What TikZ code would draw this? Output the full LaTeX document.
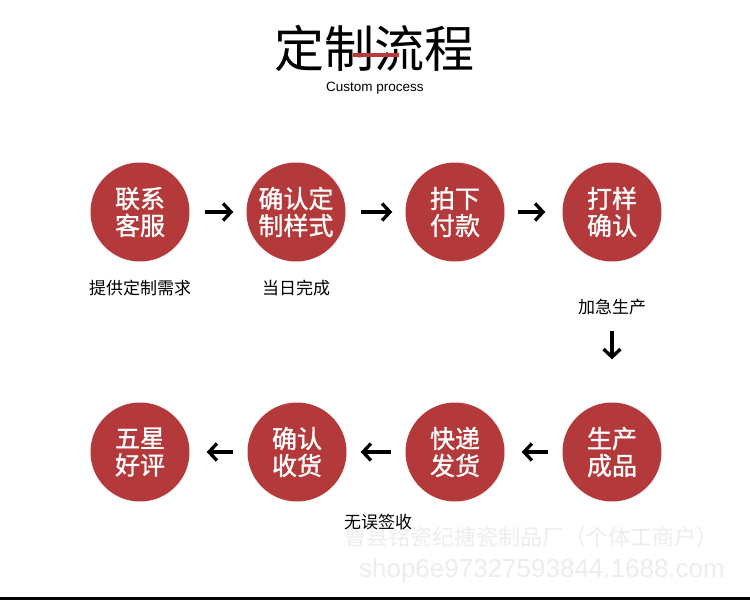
\documentclass[tikz,border=0pt]{standalone}
\usepackage{fontspec}
\setmainfont{Liberation Sans}
\newfontfamily\cjk{Noto Sans CJK SC}
\newfontfamily\cjkm[FakeBold=1.2]{Noto Sans CJK SC}
\usetikzlibrary{arrows.meta}
\definecolor{circred}{HTML}{B3393A}
\definecolor{barred}{HTML}{B83A3A}
\definecolor{baseline}{HTML}{9A2E2E}
\definecolor{wmgray}{HTML}{EDEDED}
\begin{document}
\begin{tikzpicture}[x=1pt,y=-1pt,
  proc/.style={circle, fill=circred, minimum size=99pt, inner sep=0pt, text=white,
    font=\cjkm\fontsize{25}{27}\selectfont, align=center},
  flow/.style={line width=3.3pt, -{Straight Barb[length=8pt,width=17pt]}},
  note/.style={font=\cjk\fontsize{17}{17}\selectfont, inner sep=0pt},
  wm/.style={text=wmgray, inner sep=0pt}
]
\useasboundingbox (0,0) rectangle (750,600);
\fill[white] (0,0) rectangle (750,600);
% title
\node[font=\cjk\fontsize{50}{50}\selectfont, inner sep=0pt] (title) at (374,48) {定制流程};
\fill[barred] (353,52.5) rectangle (399,57);
\node[font=\fontsize{13.5}{14}\selectfont, inner sep=0pt] (sub) at (375,88) {Custom process};
% circles
\node[proc] (c1) at (140,212) {联系\\客服};
\node[proc] (c2) at (296,212) {确认定\\制样式};
\node[proc] (c3) at (455,212) {拍下\\付款};
\node[proc] (c4) at (612,212) {打样\\确认};
\node[proc] (c8) at (612,452) {生产\\成品};
\node[proc] (c7) at (455,452) {快递\\发货};
\node[proc] (c6) at (297,452) {确认\\收货};
\node[proc] (c5) at (140,452) {五星\\好评};
% connectors
\draw[flow, shorten <=15pt, shorten >=13pt] (c1) -- (c2);
\draw[flow, shorten <=15pt, shorten >=13pt] (c2) -- (c3);
\draw[flow, shorten <=13pt, shorten >=17pt] (c3) -- (c4);
\draw[flow, shorten <=69pt, shorten >=43pt] (c4) -- (c8);
\draw[flow, shorten <=14pt, shorten >=17pt] (c8) -- (c7);
\draw[flow, shorten <=14pt, shorten >=14pt] (c7) -- (c6);
\draw[flow, shorten <=14pt, shorten >=17pt] (c6) -- (c5);
% notes
\node[note] (n1) at (140,288) {提供定制需求};
\node[note] (n2) at (296,288) {当日完成};
\node[note] (n3) at (612,307) {加急生产};
% watermark
\node[wm, font=\cjk\fontsize{22}{22}\selectfont] (wm1) at (531,537) {曹县铭瓷纪搪瓷制品厂（个体工商户）};
\node[wm, font=\fontsize{26}{26}\selectfont] (wm2) at (542,571) {shop6e97327593844.1688.com};
\node[note] (n4) at (378,522) {无误签收};
% bottom rule
\fill[baseline] (0,596.5) rectangle (750,600);
\end{tikzpicture}
\end{document}
